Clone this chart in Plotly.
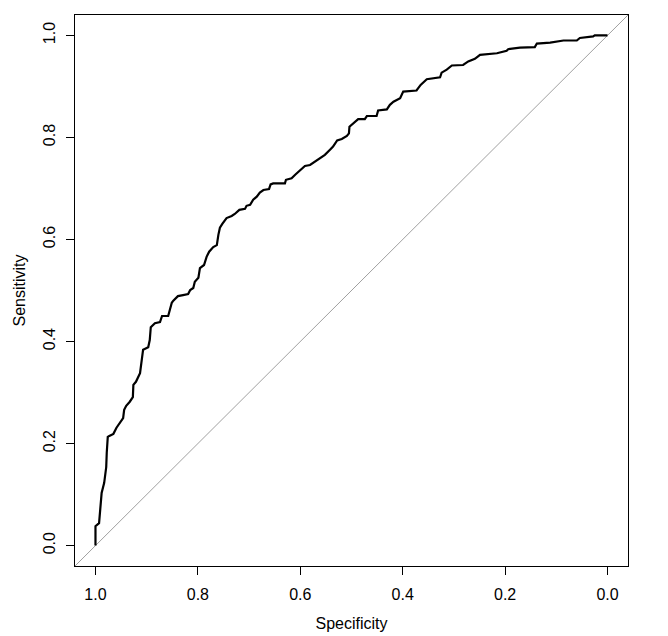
import plotly.graph_objects as go

specificity = [1.0, 1.0, 0.993, 0.991, 0.988, 0.983, 0.979, 0.978, 0.976, 0.973, 0.965, 0.959, 0.952,
               0.946, 0.944, 0.940, 0.933, 0.927, 0.926, 0.921, 0.913, 0.910, 0.907, 0.897, 0.894,
               0.892, 0.884, 0.874, 0.870, 0.858, 0.851, 0.848, 0.839, 0.829, 0.819, 0.815, 0.809,
               0.806, 0.799, 0.796, 0.788, 0.783, 0.778, 0.770, 0.763, 0.760, 0.757, 0.752, 0.744,
               0.734, 0.728, 0.719, 0.708, 0.705, 0.698, 0.692, 0.685, 0.679, 0.672, 0.661, 0.658,
               0.653, 0.630, 0.628, 0.617, 0.610, 0.601, 0.591, 0.581, 0.571, 0.562, 0.552, 0.542,
               0.536, 0.528, 0.519, 0.509, 0.505, 0.504, 0.496, 0.487, 0.474, 0.470, 0.451, 0.448,
               0.431, 0.425, 0.418, 0.405, 0.399, 0.373, 0.365, 0.353, 0.327, 0.324, 0.314, 0.304,
               0.282, 0.272, 0.259, 0.249, 0.216, 0.197, 0.194, 0.171, 0.142, 0.138, 0.112, 0.086,
               0.060, 0.054, 0.028, 0.025, 0.0]
sensitivity = [0.0, 0.038, 0.044, 0.068, 0.103, 0.123, 0.154, 0.182, 0.213, 0.215, 0.219, 0.231, 0.242,
               0.250, 0.266, 0.274, 0.282, 0.291, 0.315, 0.321, 0.338, 0.360, 0.384, 0.389, 0.403,
               0.428, 0.436, 0.438, 0.450, 0.450, 0.476, 0.480, 0.489, 0.491, 0.493, 0.501, 0.505,
               0.517, 0.525, 0.544, 0.550, 0.566, 0.576, 0.585, 0.589, 0.609, 0.623, 0.631, 0.642,
               0.646, 0.650, 0.658, 0.660, 0.666, 0.668, 0.678, 0.684, 0.692, 0.697, 0.699, 0.708,
               0.710, 0.710, 0.717, 0.720, 0.727, 0.735, 0.744, 0.746, 0.753, 0.759, 0.766, 0.776,
               0.782, 0.794, 0.797, 0.803, 0.808, 0.821, 0.828, 0.836, 0.836, 0.842, 0.842, 0.853,
               0.855, 0.864, 0.870, 0.877, 0.890, 0.892, 0.903, 0.914, 0.918, 0.927, 0.933, 0.941,
               0.942, 0.949, 0.954, 0.962, 0.965, 0.970, 0.973, 0.976, 0.977, 0.984, 0.986, 0.990,
               0.990, 0.995, 0.998, 1.0, 1.0]

tick_vals = [0.0, 0.2, 0.4, 0.6, 0.8, 1.0]
tick_text = ["0.0", "0.2", "0.4", "0.6", "0.8", "1.0"]
ref_line_x = [1.04, -0.04]
ref_line_y = [-0.04, 1.04]

font = dict(family="Liberation Sans, Arial, sans-serif", size=16, color="black")

fig = go.Figure()
fig.add_trace(go.Scatter(x=ref_line_x, y=ref_line_y, mode="lines",
                         line=dict(color="#a0a0a0", width=1), hoverinfo="skip"))
fig.add_trace(go.Scatter(x=specificity, y=sensitivity, mode="lines",
                         line=dict(color="black", width=2.2)))

axis_common = dict(showgrid=False, zeroline=False, showline=True, linecolor="black", linewidth=1,
                   mirror=True, ticks="outside", ticklen=8, tickcolor="black", tickwidth=1,
                   tickvals=tick_vals, ticktext=tick_text, tickfont=font, automargin=False)

fig.update_layout(
    width=668, height=636,
    margin=dict(l=75, r=40, t=15, b=70),
    paper_bgcolor="white", plot_bgcolor="white",
    showlegend=False,
    font=font,
    xaxis=dict(range=[1.04, -0.04], title=dict(text="Specificity", font=font, standoff=15),
               ticklabelstandoff=6, **axis_common),
    yaxis=dict(range=[-0.04, 1.04], title=dict(text="Sensitivity", font=font, standoff=10),
               tickangle=-90, ticklabelstandoff=5, **axis_common),
)

fig.write_html("out.html")
